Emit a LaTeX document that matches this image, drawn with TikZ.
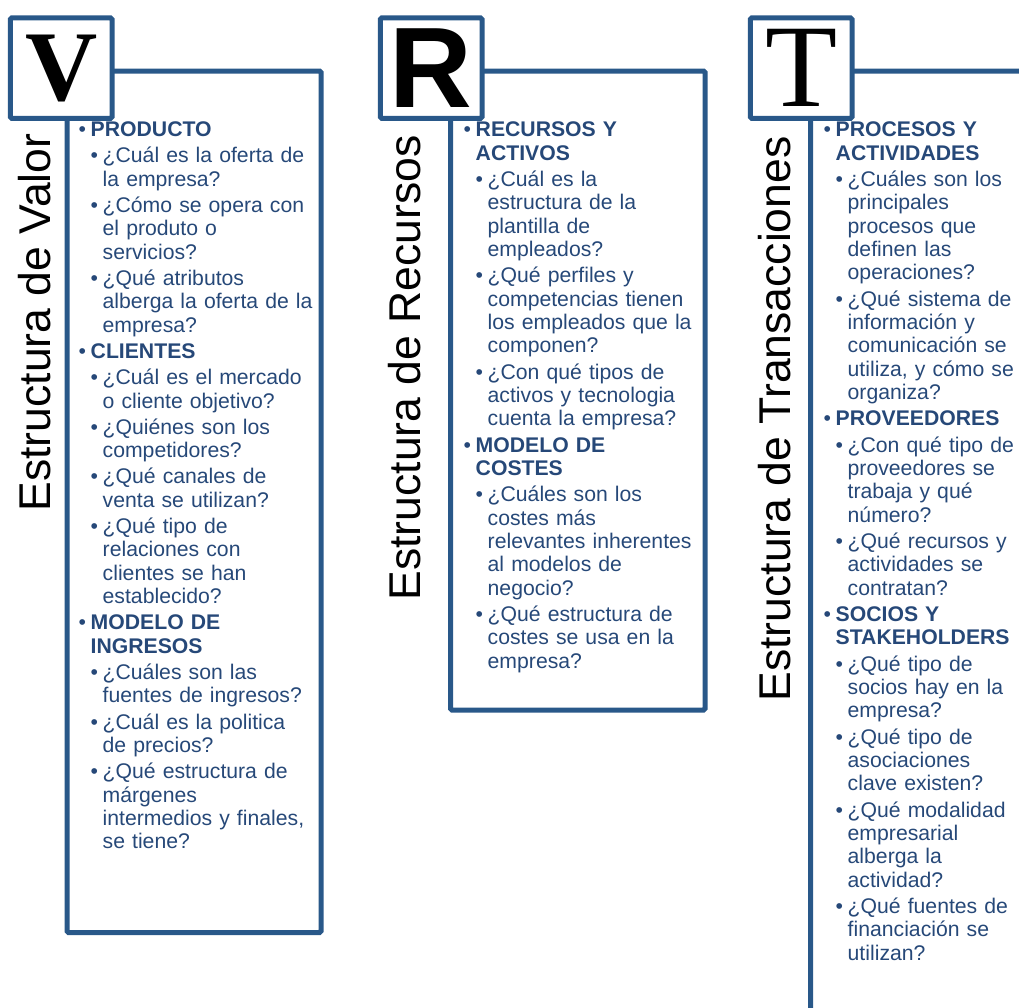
\documentclass[tikz,border=0pt]{standalone}
\usepackage{fontspec}
\setmainfont{Liberation Sans}
\newfontfamily\letterserif{Liberation Serif}
\definecolor{frameblue}{RGB}{41,88,137}
\definecolor{textblue}{RGB}{38,72,120}

% list helpers: headings (level 1) and questions (level 2)
\newlength\bulw \setlength\bulw{12pt}
\newcommand\lnbrk{\hfil\break}
\newcommand\hdr[1]{\par\leftskip=0pt\hangindent=\bulw\hangafter=1\noindent
  \makebox[\bulw][l]{•}{\bfseries#1}}
\newcommand\itm[1]{\par\leftskip=\bulw\hangindent=\bulw\hangafter=1\noindent
  \makebox[\bulw][l]{•}#1}

\tikzset{
  panel/.style={draw=frameblue, line width=5pt, rounded corners=1.5pt},
  letterbox/.style={draw=frameblue, fill=white, line width=5pt, rounded corners=1.5pt,
    minimum width=101.7pt, minimum height=100.5pt, inner sep=0pt},
  sidelabel/.style={rotate=90, anchor=base west, inner sep=0pt,
    font=\fontsize{44.5}{50}\selectfont},
  listtext/.style={anchor=north west, inner sep=0pt, text width=300pt, text=textblue,
    font=\fontsize{21.2}{23.4}\selectfont}
}

\begin{document}
\begin{tikzpicture}[x=1pt, y=-1pt]
\useasboundingbox (0,0) rectangle (1019,1007);
\clip (0,0) rectangle (1019,1007);

% ---- column V: value structure ----
\node[panel, minimum width=254pt, minimum height=861.5pt] (vpanel) at (194,501.75) {};
\node[letterbox] (vbox) at (61.15,68.05) {};
\node[font=\letterserif\bfseries\fontsize{100}{100}\selectfont, inner sep=0pt] (vletter) at (vbox.center) {V};
\node[sidelabel] (vlabel) at (50,511.5) {Estructura de Valor};
\node[listtext] (vlist) at (78.5,110.3) {\setlength\parskip{2.8pt}%
\hdr{PRODUCTO}
\itm{¿Cuál es la oferta de\lnbrk la empresa?}
\itm{¿Cómo se opera con\lnbrk el produto o\lnbrk servicios?}
\itm{¿Qué atributos\lnbrk alberga la oferta de la\lnbrk empresa?}
\hdr{CLIENTES}
\itm{¿Cuál es el mercado\lnbrk o cliente objetivo?}
\itm{¿Quiénes son los\lnbrk competidores?}
\itm{¿Qué canales de\lnbrk venta se utilizan?}
\itm{¿Qué tipo de\lnbrk relaciones con\lnbrk clientes se han\lnbrk establecido?}
\hdr{MODELO DE\lnbrk INGRESOS}
\itm{¿Cuáles son las\lnbrk fuentes de ingresos?}
\itm{¿Cuál es la politica\lnbrk de precios?}
\itm{¿Qué estructura de\lnbrk márgenes\lnbrk intermedios y finales,\lnbrk se tiene?}\par};

% ---- column R: resource structure ----
\node[panel, minimum width=254.5pt, minimum height=639pt] (rpanel) at (577.75,390.5) {};
\node[letterbox] (rbox) at (431.15,68.05) {};
\node[font=\bfseries\fontsize{114.5}{115}\selectfont, inner sep=0pt] (rletter) at (rbox.center) {R};
\node[sidelabel] (rlabel) at (420,600.5) {Estructura de Recursos};
\node[listtext] (rlist) at (463.5,110.3) {\setlength\parskip{2.8pt}%
\hdr{RECURSOS Y\lnbrk ACTIVOS}
\itm{¿Cuál es la\lnbrk estructura de la\lnbrk plantilla de\lnbrk empleados?}
\itm{¿Qué perfiles y\lnbrk competencias tienen\lnbrk los empleados que la\lnbrk componen?}
\itm{¿Con qué tipos de\lnbrk activos y tecnologia\lnbrk cuenta la empresa?}
\hdr{MODELO DE\lnbrk COSTES}
\itm{¿Cuáles son los\lnbrk costes más\lnbrk relevantes inherentes\lnbrk al modelos de\lnbrk negocio?}
\itm{¿Qué estructura de\lnbrk costes se usa en la\lnbrk empresa?}\par};

% ---- column T: transaction structure (frame runs off the page) ----
\coordinate (tcorner) at (810.5,71);
\coordinate (tright) at (1030,71);
\coordinate (tbottom) at (810.5,1020);
\draw[panel] (tright) -- (tcorner) -- (tbottom);
\node[letterbox] (tbox) at (801.15,68.05) {};
\node[font=\letterserif\fontsize{118}{118}\selectfont, inner sep=0pt] (tletter) at (tbox.center) {T};
\node[sidelabel] (tlabel) at (790,701.5) {Estructura de Transacciones};
\node[listtext] (tlist) at (823.5,110.3) {\setlength\parskip{2.8pt}%
\hdr{PROCESOS Y\lnbrk ACTIVIDADES}
\itm{¿Cuáles son los\lnbrk principales\lnbrk procesos que\lnbrk definen las\lnbrk operaciones?}
\itm{¿Qué sistema de\lnbrk información y\lnbrk comunicación se\lnbrk utiliza, y cómo se\lnbrk organiza?}
\hdr{PROVEEDORES}
\itm{¿Con qué tipo de\lnbrk proveedores se\lnbrk trabaja y qué\lnbrk número?}
\itm{¿Qué recursos y\lnbrk actividades se\lnbrk contratan?}
\hdr{SOCIOS Y\lnbrk STAKEHOLDERS}
\itm{¿Qué tipo de\lnbrk socios hay en la\lnbrk empresa?}
\itm{¿Qué tipo de\lnbrk asociaciones\lnbrk clave existen?}
\itm{¿Qué modalidad\lnbrk empresarial\lnbrk alberga la\lnbrk actividad?}
\itm{¿Qué fuentes de\lnbrk financiación se\lnbrk utilizan?}\par};
\end{tikzpicture}
\end{document}
